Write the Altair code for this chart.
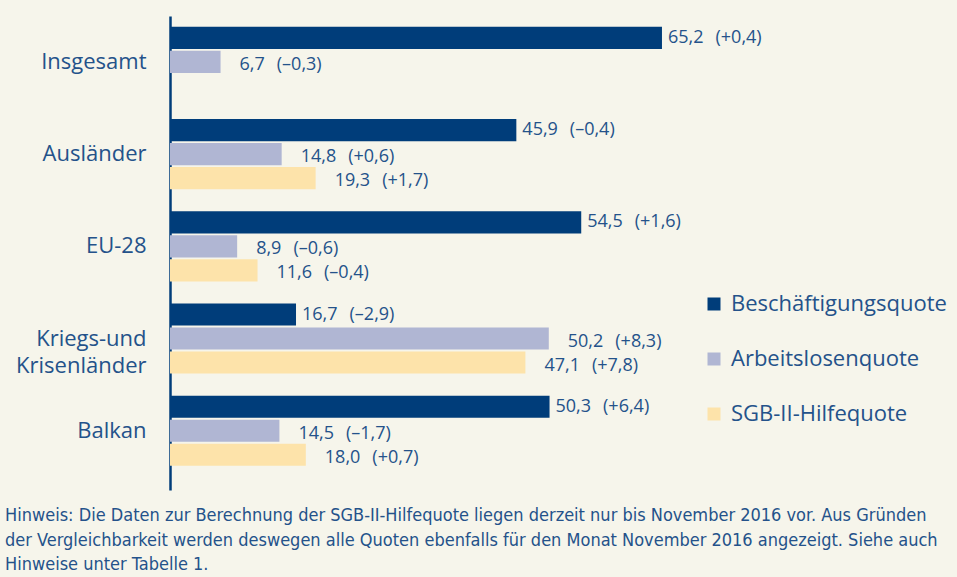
import altair as alt
import pandas as pd

groups = ["Insgesamt", "Ausländer", "EU-28", "Kriegs-und Krisenländer", "Balkan"]
series = ["Beschäftigungsquote", "Arbeitslosenquote", "SGB-II-Hilfequote"]
beschaeftigung = [65.2, 45.9, 54.5, 16.7, 50.3]
beschaeftigung_chg = [0.4, -0.4, 1.6, -2.9, 6.4]
arbeitslos = [6.7, 14.8, 8.9, 50.2, 14.5]
arbeitslos_chg = [-0.3, 0.6, -0.6, 8.3, -1.7]
sgb = [None, 19.3, 11.6, 47.1, 18.0]
sgb_chg = [None, 1.7, -0.4, 7.8, 0.7]

footnote = [
    "Hinweis: Die Daten zur Berechnung der SGB-II-Hilfequote liegen derzeit nur bis November 2016 vor. Aus Gründen",
    "der Vergleichbarkeit werden deswegen alle Quoten ebenfalls für den Monat November 2016 angezeigt. Siehe auch",
    "Hinweise unter Tabelle 1.",
]

colors = ["#003d7a", "#b0b6d3", "#fde3aa"]
text_color = "#24528a"
bg = "#f6f5eb"
font = "Open Sans"


def fmt(v):
    return f"{v:.1f}".replace(".", ",")


def fmt_chg(c):
    s = "+" if c >= 0 else "–"
    return s + f"{abs(c):.1f}".replace(".", ",")


rows = []
for i, g in enumerate(groups):
    for s, vals, chgs in [
        (series[0], beschaeftigung, beschaeftigung_chg),
        (series[1], arbeitslos, arbeitslos_chg),
        (series[2], sgb, sgb_chg),
    ]:
        if vals[i] is None:
            continue
        rows.append({
            "Gruppe": g,
            "Quote": s,
            "Wert": vals[i],
            "Label": f"{fmt(vals[i])}\u2002\u2009({fmt_chg(chgs[i])})",
        })
df = pd.DataFrame(rows)

y_enc = alt.Y(
    "Gruppe:N",
    sort=groups,
    scale=alt.Scale(paddingInner=0.24, paddingOuter=0.19, align=0.31),
    axis=alt.Axis(
        title=None, ticks=False, domain=True, domainColor="#003d7a", domainWidth=2.5,
        labelFontSize=22, labelFont=font, labelColor=text_color, labelPadding=24,
        labelExpr="datum.label == 'Kriegs-und Krisenländer' ? ['Kriegs-und', 'Krisenländer'] : datum.label",
        labelLineHeight=27, labelLimit=0,
    ),
)
x_enc = alt.X("Wert:Q", scale=alt.Scale(domain=[0, 104.3]), axis=None)
yoff = alt.YOffset("Quote:N", sort=series, scale=alt.Scale(domain=series, paddingInner=0.08, paddingOuter=0))

base = alt.Chart(df)

bars = base.mark_bar().encode(
    x=x_enc,
    y=y_enc,
    yOffset=yoff,
    color=alt.Color(
        "Quote:N",
        sort=series,
        scale=alt.Scale(domain=series, range=colors),
        legend=alt.Legend(
            title=None, orient="none", legendX=533, legendY=277,
            symbolType="square", symbolSize=169, symbolStrokeWidth=0,
            labelFontSize=22, labelFont=font, labelColor=text_color,
            rowPadding=33, labelOffset=6, labelLimit=0,
        ),
    ),
)

text_dark = base.transform_filter(alt.datum.Quote == series[0]).mark_text(
    align="left", baseline="middle", dx=6, dy=0, fontSize=18, font=font, color=text_color
).encode(x=x_enc, y=y_enc, yOffset=yoff, text="Label:N")

text_other = base.transform_filter(alt.datum.Quote != series[0]).mark_text(
    align="left", baseline="middle", dx=19, dy=3, fontSize=18, font=font, color=text_color
).encode(x=x_enc, y=y_enc, yOffset=yoff, text="Label:N")

chart = (
    alt.layer(bars, text_dark, text_other)
    .properties(
        width=787,
        height=474,
        background=bg,
        padding={"left": 170, "top": 16, "right": 0, "bottom": 87},
        autosize=alt.AutoSizeParams(type="none"),
        title=alt.TitleParams(
            text=footnote, orient="bottom", anchor="start", frame="group", dx=-165, offset=17,
            fontSize=18, font="DejaVu Sans Condensed", fontWeight="normal",
            color=text_color, lineHeight=24.5,
        ),
    )
    .configure_view(stroke=None)
)

chart.save("out.html", embed_options={"renderer": "svg", "actions": False})
